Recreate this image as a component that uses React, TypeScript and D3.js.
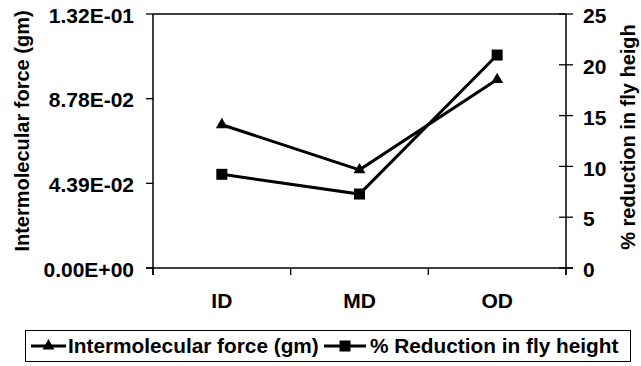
import React from "react";
import * as d3 from "d3";

const categories = ["ID", "MD", "OD"];
const forceValues = [0.0743, 0.0509, 0.0977];
const reductionValues = [9.22, 7.28, 20.96];
const leftTickLabels = ["0.00E+00", "4.39E-02", "8.78E-02", "1.32E-01"];
const rightTicks = [0, 5, 10, 15, 20, 25];
const leftMax = 0.1317;
const rightMax = 25;

const W = 641;
const H = 366;
const M = { left: 153, right: 566, top: 14, bottom: 268 };
const FONT = "'Liberation Sans', Arial, sans-serif";

export default function App() {
  const x = d3.scaleBand<string>().domain(categories).range([M.left, M.right]);
  const yL = d3.scaleLinear().domain([0, leftMax]).range([M.bottom, M.top]);
  const yR = d3.scaleLinear().domain([0, rightMax]).range([M.bottom, M.top]);
  const cx = (c: string) => (x(c) as number) + x.bandwidth() / 2;

  const lineL = d3
    .line<number>()
    .x((_, i) => cx(categories[i]))
    .y((d) => yL(d));
  const lineR = d3
    .line<number>()
    .x((_, i) => cx(categories[i]))
    .y((d) => yR(d));

  const tri = d3.symbol().type(d3.symbolTriangle).size(62)();
  const leftTicks = leftTickLabels.map((_, i) => (leftMax * i) / 3);
  const boundaries = [...categories.map((c) => x(c) as number), M.right];

  return (
    <svg
      width={W}
      height={H}
      style={{ position: "absolute", left: 0, top: 0, background: "#fff" }}
      fontFamily={FONT}
      fontWeight="bold"
    >
      {/* plot frame top */}
      <line x1={M.left} x2={M.right} y1={M.top} y2={M.top} stroke="#000" strokeWidth={1.3} />
      {/* left axis */}
      <line x1={M.left} x2={M.left} y1={M.top} y2={M.bottom + 7} stroke="#000" strokeWidth={1.5} />
      {leftTicks.map((t, i) => (
        <g key={"lt" + i}>
          <line x1={M.left - 7} x2={M.left} y1={yL(t)} y2={yL(t)} stroke="#000" strokeWidth={1.3} />
          <text x={M.left - 19} y={yL(t)} dy="0.42em" textAnchor="end" fontSize={21}>
            {leftTickLabels[i]}
          </text>
        </g>
      ))}
      {/* right axis */}
      <line x1={M.right} x2={M.right} y1={M.top} y2={M.bottom + 7} stroke="#000" strokeWidth={1.5} />
      {rightTicks.map((t) => (
        <g key={"rt" + t}>
          <line x1={M.right - 7} x2={M.right + 7} y1={yR(t)} y2={yR(t)} stroke="#000" strokeWidth={1.3} />
          <text x={M.right + 17} y={yR(t)} dy="0.44em" textAnchor="start" fontSize={21}>
            {t}
          </text>
        </g>
      ))}
      {/* bottom axis */}
      <line x1={M.left - 7} x2={M.right + 7} y1={M.bottom} y2={M.bottom} stroke="#000" strokeWidth={1.5} />
      {boundaries.map((b, i) => (
        <line key={"bt" + i} x1={b} x2={b} y1={M.bottom} y2={M.bottom + 7} stroke="#000" strokeWidth={1.3} />
      ))}
      {categories.map((c) => (
        <text key={c} x={cx(c)} y={308} textAnchor="middle" fontSize={21}>
          {c}
        </text>
      ))}
      {/* axis titles */}
      <text transform="translate(29, 131) rotate(-90)" textAnchor="middle" fontSize={20}>
        Intermolecular force (gm)
      </text>
      <text transform="translate(635, 137) rotate(-90)" textAnchor="middle" fontSize={20}>
        % reduction in fly heigh
      </text>
      {/* series */}
      <path d={lineL(forceValues) as string} fill="none" stroke="#000" strokeWidth={3} />
      <path d={lineR(reductionValues) as string} fill="none" stroke="#000" strokeWidth={3} />
      {forceValues.map((v, i) => (
        <path key={"tm" + i} d={tri as string} transform={`translate(${cx(categories[i])},${yL(v)})`} fill="#000" />
      ))}
      {reductionValues.map((v, i) => (
        <rect key={"sm" + i} x={cx(categories[i]) - 5.5} y={yR(v) - 5.5} width={11} height={11} fill="#000" />
      ))}
      {/* legend */}
      <rect x={25.5} y={330.5} width={605} height={31} fill="#fff" stroke="#000" strokeWidth={1} />
      <line x1={31} x2={66} y1={346} y2={346} stroke="#000" strokeWidth={3} />
      <path d={tri as string} transform="translate(48.5,346)" fill="#000" />
      <text x={68} y={353} fontSize={20.8}>
        Intermolecular force (gm)
      </text>
      <line x1={324} x2={366} y1={346} y2={346} stroke="#000" strokeWidth={3} />
      <rect x={339.5} y={340.5} width={11} height={11} fill="#000" />
      <text x={370} y={353} fontSize={20.8}>
        % Reduction in fly height
      </text>
    </svg>
  );
}
